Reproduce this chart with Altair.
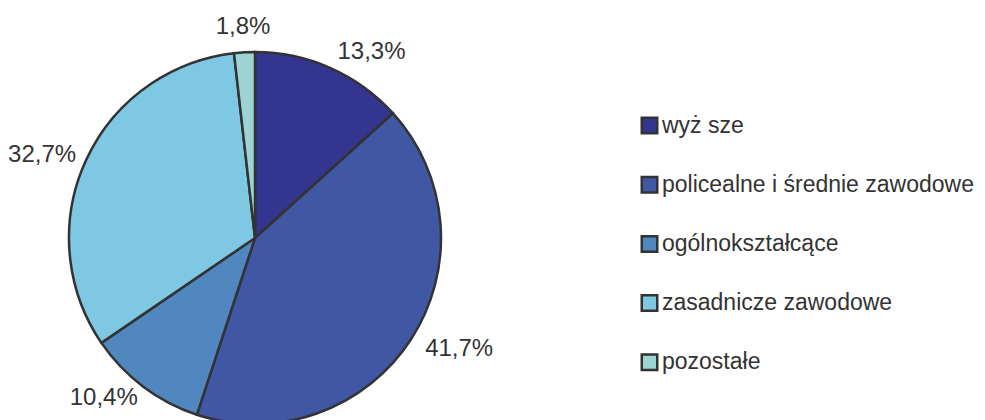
import altair as alt
import pandas as pd

categories = ["wyż sze", "policealne i średnie zawodowe", "ogólnokształcące", "zasadnicze zawodowe", "pozostałe"]
values = [13.3, 41.7, 10.4, 32.7, 1.8]
labels = ["13,3%", "41,7%", "10,4%", "32,7%", "1,8%"]
colors = ["#33358F", "#4057A3", "#5087BF", "#7EC8E3", "#9DD3D3"]

df = pd.DataFrame({"cat": categories, "val": values, "lab": labels, "ord": list(range(len(categories)))})

cx, cy, R = 247, 230, 186
FONT = "Liberation Sans"

base = alt.Chart(df).encode(
    theta=alt.Theta("val:Q", stack=True),
    order=alt.Order("ord:Q"),
)

pie = base.mark_arc(radius=R, stroke="#333333", strokeWidth=2.5).encode(
    x=alt.value(cx), y=alt.value(cy),
    color=alt.Color("cat:N", sort=categories,
                    scale=alt.Scale(domain=categories, range=colors),
                    legend=alt.Legend(
                        title=None, orient="none", legendX=630, legendY=106,
                        symbolType="square", symbolSize=240, symbolStrokeColor="#333333",
                        symbolStrokeWidth=2.5, labelFontSize=23, labelFont=FONT,
                        labelColor="#333333", rowPadding=32.2, labelOffset=1, labelLimit=500,
                    )),
)

txt = base.transform_calculate(
    tR="datum.ord <= 1 ? datum.lab : ''",
    tL="(datum.ord == 2 || datum.ord == 3) ? datum.lab : ''",
    tC="datum.ord == 4 ? datum.lab : ''",
)

right = txt.mark_text(radius=203, align="left", baseline="middle", fontSize=24, font=FONT, color="#333333").encode(
    x=alt.value(cx), y=alt.value(cy), text="tR:N")
left = txt.mark_text(radius=200, align="right", baseline="middle", fontSize=24, font=FONT, color="#333333", dx=3).encode(
    x=alt.value(cx), y=alt.value(cy), text="tL:N")
center = txt.mark_text(radius=211, align="center", baseline="middle", fontSize=24, font=FONT, color="#333333").encode(
    x=alt.value(cx), y=alt.value(cy), text="tC:N")

chart = (pie + right + left + center).properties(width=969, height=412, padding=0, autosize="none").configure_view(stroke=None)
chart.save("out.html", embed_options={"renderer": "svg", "actions": False})
